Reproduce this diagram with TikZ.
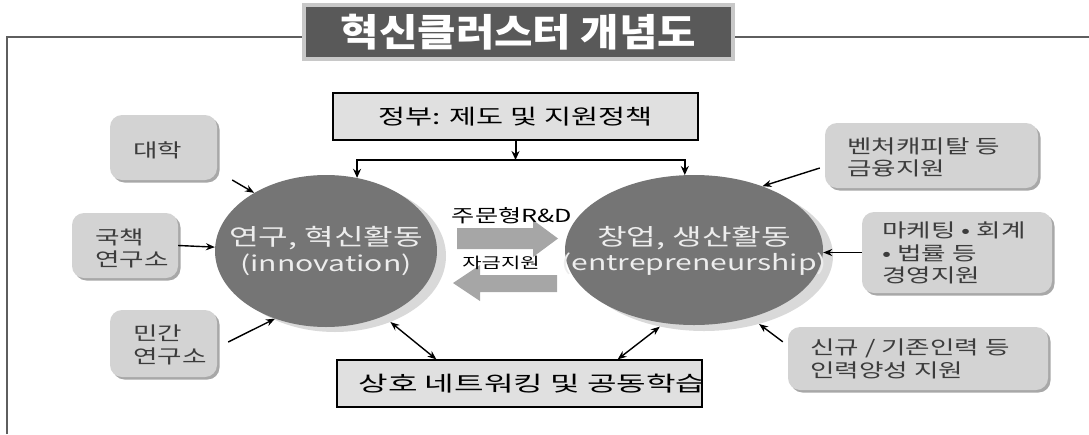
\documentclass[tikz,border=0pt]{standalone}
\usepackage{fontspec}
\setmainfont{Noto Sans CJK KR}[FakeStretch=1.4]
\newfontfamily\titlefont{Noto Sans CJK KR}[FakeStretch=1.1]
\newfontfamily\widefont{Noto Sans CJK KR}[FakeStretch=1.53]
\usetikzlibrary{arrows.meta,shapes.geometric,shadows}
\definecolor{framec}{HTML}{5E5E5E}
\definecolor{titlefill}{HTML}{595959}
\definecolor{titleedge}{HTML}{C8C8C8}
\definecolor{boxfill}{HTML}{E0E0E0}
\definecolor{sidefill}{HTML}{D3D3D3}
\definecolor{sideshadow}{HTML}{A8A8A8}
\definecolor{ellfill}{HTML}{757575}
\definecolor{ellshadow}{HTML}{D9D9D9}
\definecolor{elltext}{HTML}{EDEDED}
\definecolor{sidetext}{HTML}{3C3C3C}
\definecolor{blockarrow}{HTML}{A6A6A6}
\tikzset{
  titlebox/.style={draw=titleedge, line width=4pt, fill=titlefill, inner sep=0pt,
    minimum width=429pt, minimum height=54pt, text=white,
    font=\titlefont\bfseries\fontsize{38}{44}\selectfont},
  mainbox/.style={draw=black, line width=1.2pt, fill=boxfill, inner sep=0pt},
  maintext/.style={font=\fontsize{21}{25}\selectfont, text=black, inner sep=0pt},
  sidebox/.style={fill=sidefill, rounded corners=12pt, inner sep=0pt,
    drop shadow={shadow xshift=2.5pt, shadow yshift=-2.5pt, fill=sideshadow, opacity=1}},
  sidetxt/.style={font=\fontsize{19}{22.5}\selectfont, text=sidetext, align=left,
    anchor=west, inner sep=0pt},
  ellbody/.style={ellipse, fill=ellfill, inner sep=0pt},
  elltxt/.style={text=elltext, align=center, inner sep=0pt,
    font=\fontsize{22}{25.5}\selectfont},
  ellshade/.style={ellipse, fill=ellshadow, inner sep=0pt},
  conn/.style={line width=1.4pt, -{Stealth[length=9pt, width=7pt]}},
  dconn/.style={line width=1.4pt, {Stealth[length=9pt, width=7pt]}-{Stealth[length=9pt, width=7pt]}},
  govconn/.style={line width=2pt, -{Stealth[length=9pt, width=8pt]}},
  blk/.style={fill=blockarrow},
  lbl/.style={text=black, inner sep=0pt}
}
\begin{document}
\begin{tikzpicture}[x=1pt,y=-1pt]
\useasboundingbox (0,0) rectangle (1089,434);
% frame
\draw[framec, line width=2.5pt] (7,434) -- (7,37) -- (1089,37);
% title
\node[titlebox] (T) at (518.5,32) {혁신클러스터 개념도};
% government box
\node[mainbox, minimum width=365pt, minimum height=47pt] (G) at (515.5,116.5) {};
\node[maintext] (Gt) at (G.center) {정부: 제도 및 지원정책};
% bottom box
\node[mainbox, minimum width=365pt, minimum height=47pt] (B) at (519.5,383.5) {};
\node[maintext, font=\widefont\fontsize{21}{25}\selectfont] (Bt) at (532,383.5) {상호 네트워킹 및 공동학습};
% ellipses
\node[ellshade, minimum width=222pt, minimum height=152pt] (LS) at (335,256) {};
\node[ellbody, minimum width=222pt, minimum height=152pt] (L) at (326,251) {};
\node[elltxt] (Lt) at (L.center)
  {{\fontsize{23}{25.5}\selectfont 연구, 혁신활동}\\{\fontsize{21.5}{25.5}\selectfont (innovation)}};
\node[ellshade, minimum width=258pt, minimum height=150pt] (RS) at (704,256) {};
\node[ellbody, minimum width=258pt, minimum height=150pt] (R) at (694,250) {};
\node[elltxt] (Rt) at ([yshift=-1pt]R.center)
  {{\fontsize{23}{25.5}\selectfont 창업, 생산활동}\\{\fontsize{21.5}{25.5}\selectfont (entrepreneurship)}};
% left side boxes
\node[sidebox, minimum width=107pt, minimum height=65pt] (D) at (163.5,147.5) {};
\node[sidetxt] (Dt) at (133,150) {대학};
\node[sidebox, minimum width=106pt, minimum height=65pt] (K) at (125,245.5) {};
\node[sidetxt] (Kt) at (95,248.5) {국책\\연구소};
\node[sidebox, minimum width=107pt, minimum height=67pt] (M) at (163.5,343.5) {};
\node[sidetxt] (Mt) at (133,345) {민간\\연구소};
% right side boxes
\node[sidebox, minimum width=213pt, minimum height=65pt] (V) at (931.5,155.5) {};
\node[sidetxt] (Vt) at (847,157.5) {벤처캐피탈 등\\금융지원};
\node[sidebox, minimum width=190pt, minimum height=81pt] (MK) at (957,252.5) {};
\node[sidetxt] (MKt) at (882,253) {마케팅 • 회계\\• 법률 등\\경영지원};
\node[sidebox, minimum width=260pt, minimum height=63pt] (N) at (918,358.5) {};
\node[sidetxt] (Nt) at (810,359) {신규 / 기존인력 등\\인력양성 지원};
% block arrows
\fill[blk] (457,228) -- (533,228) -- (533,220) -- (558,238.5) -- (533,257) -- (533,249) -- (457,249) -- cycle;
\fill[blk] (557,275) -- (480,275) -- (480,265) -- (453,283) -- (480,301) -- (480,292) -- (557,292) -- cycle;
\node[lbl, font=\fontsize{18}{21}\selectfont] (lab1) at (512,216) {주문형R\&D};
\node[lbl, font=\fontsize{15}{18}\selectfont] (lab2) at (501,263) {자금지원};
% government connectors
\coordinate (J) at (G.south |- 0,160);
\draw[govconn] (G.south) -- (J);
\draw[govconn] (J) -| (L.67);
\draw[govconn] (J) -| (R.97);
% left connectors
\draw[conn] ([xshift=15pt,yshift=-32.5pt]D.east) -- (L.141);
\draw[conn] (K.east) -- (L.178);
\draw[conn] ([xshift=11pt,yshift=1.5pt]M.east) -- (L.233);
% right connectors
\draw[conn] ([xshift=-5pt,yshift=-12.5pt]V.west) -- (R.43.7);
\draw[conn] (MK.west) -- (R.east |- MK.west);
\draw[conn] ([xshift=-5pt,yshift=-15pt]N.north west) -- (RS.309);
% networking
\draw[dconn] (LS.310) -- ([xshift=100pt]B.north west);
\draw[dconn] (RS.238.6) -- ([xshift=-85pt]B.north east);
\end{tikzpicture}
\end{document}
